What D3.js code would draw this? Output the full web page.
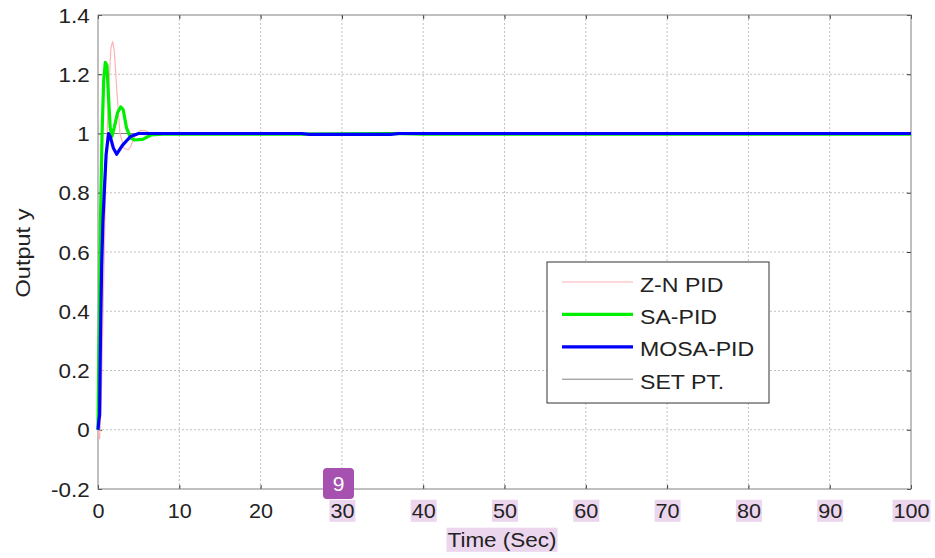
<!DOCTYPE html>
<html>
<head>
<meta charset="utf-8">
<style>
    body { margin: 0; background: white; }
    text { font-family: "Liberation Sans", Arial, sans-serif; fill: #222; }
    .grid line { stroke: #c0c0c0; stroke-dasharray: 2,2; }
    .box { fill: none; stroke: #808080; stroke-width: 1; }
</style>
</head>
<body>
<div id="chart"></div>
<script src="https://cdn.jsdelivr.net/npm/d3@7"></script>
<script>

//////////////////// data ////////////////////
let xTicks = [0, 10, 20, 30, 40, 50, 60, 70, 80, 90, 100];
let yTicks = [-0.2, 0, 0.2, 0.4, 0.6, 0.8, 1, 1.2, 1.4];
let highlightedTicks = [30, 40, 50, 60, 70, 80, 90, 100];

let zn_t = [0, 0.2, 0.4, 0.7, 1.0, 1.3, 1.6, 1.8, 2.0, 2.3, 2.7, 3.2, 3.7, 4.0, 4.5, 5.2, 5.8, 6.5, 10, 100];
let zn_y = [0, -0.03, 0.1, 0.5, 0.9, 1.15, 1.29, 1.31, 1.28, 1.15, 1.0, 0.95, 0.945, 0.955, 0.99, 1.01, 1.01, 1.0, 1.0, 1.0];

let sa_t = [0, 0.1, 0.2, 0.3, 0.4, 0.5, 0.7, 0.9, 1.1, 1.3, 1.5, 1.7, 2.0, 2.4, 2.8, 3.1, 3.5, 4.0, 4.5, 5.5, 6.5, 8, 25, 36, 40, 100];
let sa_y = [0, 0.25, 0.45, 0.7, 0.85, 1.0, 1.18, 1.24, 1.23, 1.12, 1.02, 0.99, 1.02, 1.07, 1.09, 1.08, 1.02, 0.985, 0.978, 0.98, 0.995, 0.998, 0.998, 1.0, 0.998, 0.998];

let mosa_t = [0, 0.1, 0.2, 0.3, 0.45, 0.6, 0.8, 1.0, 1.3, 1.5, 1.9, 2.3, 3.0, 4.0, 5.0, 25, 26, 36, 37, 100];
let mosa_y = [0, 0.03, 0.05, 0.3, 0.55, 0.7, 0.82, 0.93, 1.0, 0.99, 0.95, 0.93, 0.96, 0.99, 1.0, 1.0, 0.997, 0.997, 1.0, 1.0];

let set_t = [0, 100];
let set_y = [1, 1];

let series = [
    { name: 'Z-N PID', t: zn_t, y: zn_y, color: '#ffb3b3', width: 1.2 },
    { name: 'SA-PID', t: sa_t, y: sa_y, color: '#00ee00', width: 3.2 },
    { name: 'MOSA-PID', t: mosa_t, y: mosa_y, color: '#0000ff', width: 3.2 },
    { name: 'SET PT.', t: set_t, y: set_y, color: '#808080', width: 1 },
];
let drawOrder = [3, 0, 1, 2];

//////////////////// layout ////////////////////
let W = 935, H = 558;
let plot = { left: 98, right: 911, top: 15, bottom: 489 };
let FONT = '"Liberation Sans", Arial, sans-serif';

let svg = d3.select('#chart').append('svg')
    .attr('width', W)
    .attr('height', H);

let x = d3.scaleLinear().domain([0, 100]).range([plot.left, plot.right]);
let y = d3.scaleLinear().domain([-0.2, 1.4]).range([plot.bottom, plot.top]);

// grid
let grid = svg.append('g').classed('grid', true);
grid.selectAll('.gx').data(xTicks.slice(1, -1)).enter().append('line')
    .attr('x1', d => x(d)).attr('x2', d => x(d))
    .attr('y1', plot.top).attr('y2', plot.bottom);
grid.selectAll('.gy').data(yTicks.slice(1, -1)).enter().append('line')
    .attr('x1', plot.left).attr('x2', plot.right)
    .attr('y1', d => y(d)).attr('y2', d => y(d));

// highlight boxes go under the labels
let hl = svg.append('g');

// axes (MATLAB style, ticks inward)
let fmtY = d => String(Math.round(d * 10) / 10);
let xAxisG = svg.append('g')
    .attr('transform', `translate(0, ${plot.bottom})`)
    .call(d3.axisBottom(x).tickValues(xTicks).tickSize(-4).tickPadding(0).tickFormat(d3.format('d')))
    .call(g => g.select('.domain').remove())
    .call(g => g.selectAll('line').attr('stroke', '#333'));
xAxisG.selectAll('text')
    .attr('dy', null).attr('y', 29)
    .attr('font-size', 20).attr('fill', '#222').attr('font-family', FONT)
    .attr('transform', 'scale(1.08,1)');

svg.append('g')
    .attr('transform', `translate(0, ${plot.top})`)
    .call(d3.axisTop(x).tickValues(xTicks).tickSize(-4).tickFormat(''))
    .call(g => g.select('.domain').remove())
    .call(g => g.selectAll('line').attr('stroke', '#333'));

let yAxisG = svg.append('g')
    .attr('transform', `translate(${plot.left}, 0)`)
    .call(d3.axisLeft(y).tickValues(yTicks).tickSize(-4).tickPadding(0).tickFormat(fmtY))
    .call(g => g.select('.domain').remove())
    .call(g => g.selectAll('line').attr('stroke', '#333'));
yAxisG.selectAll('text')
    .attr('x', -7.5).attr('dy', '0.36em')
    .attr('font-size', 20).attr('fill', '#222').attr('font-family', FONT)
    .attr('transform', 'scale(1.12,1)');

svg.append('g')
    .attr('transform', `translate(${plot.right}, 0)`)
    .call(d3.axisRight(y).tickValues(yTicks).tickSize(-4).tickFormat(''))
    .call(g => g.select('.domain').remove())
    .call(g => g.selectAll('line').attr('stroke', '#333'));

svg.append('rect').classed('box', true)
    .attr('x', plot.left).attr('y', plot.top)
    .attr('width', plot.right - plot.left).attr('height', plot.bottom - plot.top);

// curves
let line = d3.line().x(d => x(d[0])).y(d => y(d[1]));
let curves = svg.append('g');
drawOrder.forEach(i => {
    let s = series[i];
    curves.append('path')
        .attr('d', line(d3.zip(s.t, s.y)))
        .attr('fill', 'none')
        .attr('stroke', s.color)
        .attr('stroke-width', s.width)
        .attr('stroke-linejoin', 'round');
});

// axis titles
let xTitle = svg.append('text')
    .attr('transform', 'translate(502, 547) scale(1.07,1)')
    .attr('text-anchor', 'middle')
    .attr('font-size', 21)
    .text('Time (Sec)');
svg.append('text')
    .attr('transform', 'translate(30, 253) rotate(-90) scale(1.12,1)')
    .attr('text-anchor', 'middle')
    .attr('font-size', 21)
    .text('Output y');

// highlights behind some x tick labels and the x title
function highlight(node) {
    let r = node.getBoundingClientRect();
    let s = svg.node().getBoundingClientRect();
    hl.append('rect')
        .attr('x', r.left - s.left - 1).attr('y', r.top - s.top)
        .attr('width', r.width + 2).attr('height', r.height)
        .attr('fill', '#ebd6ee');
}
xAxisG.selectAll('text').filter(d => highlightedTicks.includes(d)).each(function() { highlight(this); });
highlight(xTitle.node());

// legend
let legend = svg.append('g').attr('transform', 'translate(547, 262)');
legend.append('rect')
    .attr('width', 222).attr('height', 141)
    .attr('fill', 'white').attr('stroke', '#333').attr('stroke-width', 1);
series.forEach((s, i) => {
    let ly = 20 + i * 32.4;
    legend.append('line')
        .attr('x1', 15).attr('x2', 86)
        .attr('y1', ly).attr('y2', ly)
        .attr('stroke', s.color)
        .attr('stroke-width', s.width);
    legend.append('text')
        .attr('transform', `translate(93, ${ly + 9.5}) scale(1.1,1)`)
        .attr('font-size', 21)
        .text(s.name);
});

// badge
let badge = svg.append('g').attr('transform', 'translate(323, 468)');
badge.append('rect')
    .attr('width', 31).attr('height', 31).attr('rx', 4)
    .attr('fill', '#a650b0');
badge.append('text')
    .attr('x', 15.5).attr('y', 23)
    .attr('text-anchor', 'middle')
    .attr('font-size', 21)
    .style('fill', 'white')
    .text('9');

</script>
</body>
</html>
